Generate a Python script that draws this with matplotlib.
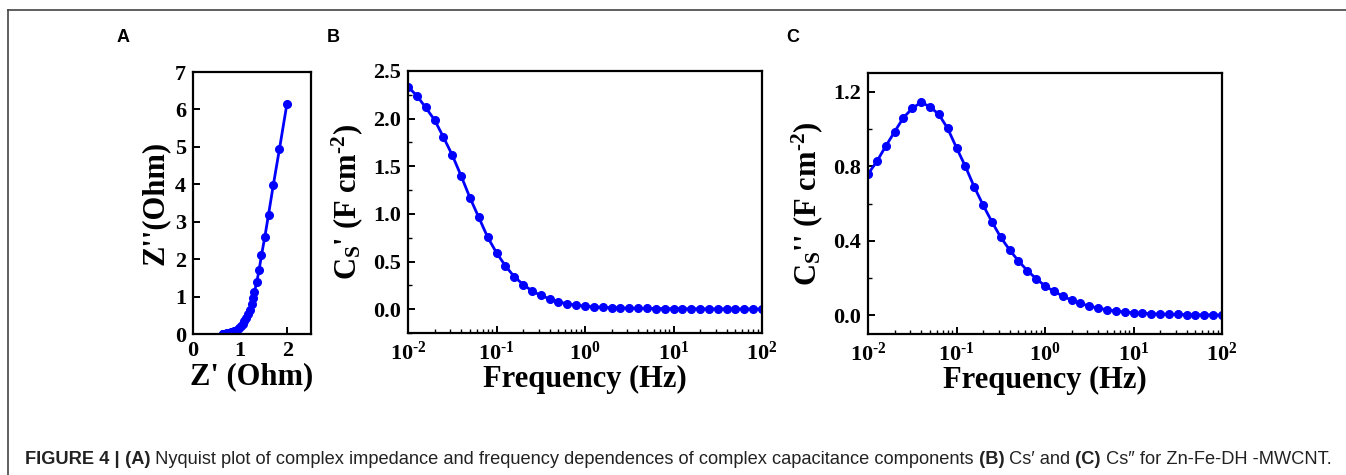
import matplotlib
matplotlib.use("Agg")
import matplotlib.pyplot as plt
from matplotlib import font_manager
from matplotlib.text import Annotation
from matplotlib.ticker import MultipleLocator, LogLocator, NullFormatter, FixedLocator

W, H = 1346, 475

plt.rcParams["font.family"] = "Liberation Serif"
plt.rcParams["font.weight"] = "bold"
plt.rcParams["mathtext.fontset"] = "custom"
plt.rcParams["mathtext.rm"] = "Liberation Serif:bold"
plt.rcParams["mathtext.bf"] = "Liberation Serif:bold"
plt.rcParams["mathtext.it"] = "Liberation Serif:bold"

# --- data ---
FREQ = [0.01, 0.0126, 0.0158, 0.02, 0.0251, 0.0316, 0.0398, 0.0501, 0.0631, 0.0794,
        0.1, 0.126, 0.158, 0.2, 0.251, 0.316, 0.398, 0.501, 0.631, 0.794,
        1.0, 1.26, 1.58, 2.0, 2.51, 3.16, 3.98, 5.01, 6.31, 7.94,
        10.0, 12.6, 15.8, 20.0, 25.1, 31.6, 39.8, 50.1, 63.1, 79.4, 100.0]

CS_REAL = [2.335, 2.24, 2.118, 1.985, 1.807, 1.618, 1.40, 1.17, 0.963, 0.756,
           0.592, 0.455, 0.343, 0.259, 0.193, 0.144, 0.109, 0.077, 0.056, 0.042,
           0.032, 0.025, 0.020, 0.016, 0.013, 0.011, 0.009, 0.008, 0.007, 0.006,
           0.005, 0.005, 0.004, 0.004, 0.003, 0.003, 0.003, 0.002, 0.002, 0.002, 0.002]

CS_IMAG = [0.758, 0.826, 0.906, 0.985, 1.060, 1.110, 1.143, 1.119, 1.078, 1.003,
           0.899, 0.799, 0.691, 0.591, 0.502, 0.419, 0.351, 0.292, 0.240, 0.197,
           0.158, 0.129, 0.104, 0.081, 0.064, 0.050, 0.039, 0.030, 0.023, 0.018,
           0.014, 0.011, 0.009, 0.007, 0.006, 0.005, 0.004, 0.003, 0.003, 0.002, 0.002]

Z_REAL = [1.99, 1.83, 1.70, 1.60, 1.52, 1.45, 1.40, 1.35, 1.30, 1.27,
          1.24, 1.20, 1.17, 1.13, 1.09, 1.05, 1.01, 0.97, 0.93, 0.89,
          0.86, 0.83, 0.80, 0.78, 0.76, 0.74, 0.72, 0.71, 0.70, 0.69,
          0.68, 0.675, 0.67, 0.665, 0.66, 0.655, 0.65, 0.648, 0.645, 0.643, 0.64]

Z_IMAG = [6.15, 4.93, 3.97, 3.19, 2.58, 2.10, 1.71, 1.38, 1.12, 0.95,
          0.80, 0.65, 0.53, 0.43, 0.34, 0.27, 0.21, 0.16, 0.12, 0.09,
          0.07, 0.055, 0.043, 0.034, 0.027, 0.022, 0.018, 0.015, 0.012, 0.010,
          0.008, 0.007, 0.006, 0.005, 0.004, 0.004, 0.003, 0.003, 0.002, 0.002, 0.002]

LOG_TICKS = [1e-2, 1e-1, 1e0, 1e1, 1e2]
LOG_LABELS = [r"10$^{\text{-2}}$", r"10$^{\text{-1}}$", r"10$^{\text{0}}$",
              r"10$^{\text{1}}$", r"10$^{\text{2}}$"]

CAPTION = [
    ("FIGURE 4 |", "bold"),
    (" (A)", "bold"),
    (" Nyquist plot of complex impedance and frequency dependences of complex capacitance components", "normal"),
    (" (B)", "bold"),
    (" Cs\u2032 and", "normal"),
    (" (C)", "bold"),
    (" Cs\u2033 for Zn-Fe-DH -MWCNT.", "normal"),
]

BLUE = "#0000ff"
LABEL_SIZE = 22
TICK_SIZE = 16

names = {f.name for f in font_manager.fontManager.ttflist}
CAPTION_FONT = "Liberation Sans Narrow" if "Liberation Sans Narrow" in names else "Liberation Sans"


def px_axes(fig, left, top, right, bottom):
    return fig.add_axes([left / W, 1 - bottom / H, (right - left) / W, (bottom - top) / H])


def style_axes(ax):
    for spine in ax.spines.values():
        spine.set_linewidth(1.6)
    ax.tick_params(which="major", direction="in", length=5, width=1.4,
                   labelsize=TICK_SIZE, pad=5)
    ax.tick_params(which="minor", direction="in", length=3, width=1.0)
    for label in ax.get_xticklabels() + ax.get_yticklabels():
        label.set_fontweight("bold")


fig = plt.figure(figsize=(W / 100, H / 100), dpi=100)

# panel A - Nyquist
axA = px_axes(fig, 193, 72, 311, 334)
axA.plot(Z_REAL, Z_IMAG, color=BLUE, lw=2, marker="o", ms=5.5)
axA.set_xlim(0, 2.5)
axA.set_ylim(0, 7)
axA.xaxis.set_major_locator(MultipleLocator(1))
axA.yaxis.set_major_locator(MultipleLocator(1))
axA.set_xlabel("Z' (Ohm)", fontsize=LABEL_SIZE, fontweight="bold", labelpad=1)
axA.set_ylabel("Z''(Ohm)", fontsize=LABEL_SIZE, fontweight="bold", labelpad=4)
style_axes(axA)

# panel B - C_S'
axB = px_axes(fig, 408, 71, 762, 333)
axB.plot(FREQ, CS_REAL, color=BLUE, lw=2, marker="o", ms=5.5)
axB.set_ylim(-0.25, 2.5)
axB.yaxis.set_major_locator(MultipleLocator(0.5))
axB.yaxis.set_minor_locator(MultipleLocator(0.25))
axB.set_ylabel(r"C$_\mathregular{S}$' (F cm$^{\text{-2}}$)",
               fontsize=LABEL_SIZE, fontweight="bold", labelpad=6)

# panel C - C_S''
axC = px_axes(fig, 868, 73, 1222, 334)
axC.plot(FREQ, CS_IMAG, color=BLUE, lw=2, marker="o", ms=5.5)
axC.set_ylim(-0.1, 1.3)
axC.yaxis.set_major_locator(MultipleLocator(0.4))
axC.yaxis.set_minor_locator(MultipleLocator(0.2))
axC.set_ylabel(r"C$_\mathregular{S}$'' (F cm$^{\text{-2}}$)",
               fontsize=LABEL_SIZE, fontweight="bold", labelpad=6)

for ax in (axB, axC):
    ax.set_xscale("log")
    ax.set_xlim(1e-2, 1e2)
    ax.xaxis.set_major_locator(FixedLocator(LOG_TICKS))
    ax.set_xticklabels(LOG_LABELS)
    ax.xaxis.set_minor_locator(LogLocator(base=10, subs=range(2, 10), numticks=20))
    ax.xaxis.set_minor_formatter(NullFormatter())
    ax.yaxis.set_major_formatter(matplotlib.ticker.FormatStrFormatter("%.1f"))
    ax.set_xlabel("Frequency (Hz)", fontsize=LABEL_SIZE, fontweight="bold", labelpad=0)
    style_axes(ax)
    ax.tick_params(axis="x", pad=6)

# panel letters
for letter, x in (("A", 123), ("B", 333), ("C", 793)):
    fig.text(x / W, 1 - 37 / H, letter, family="Liberation Sans", weight="bold",
             fontsize=13, ha="center", va="center")

# frame lines
fig.add_artist(plt.Line2D([8 / W, 1], [1 - 10 / H, 1 - 10 / H], color="#444444", lw=1.2))
fig.add_artist(plt.Line2D([8 / W, 8 / W], [0, 1 - 10 / H], color="#444444", lw=1.2))

# caption, pieces chained left to right
cap_size = 11.5
pieces = []
prev = fig.text(25 / W, 1 - 468 / H, CAPTION[0][0], family=CAPTION_FONT,
                weight=CAPTION[0][1], fontsize=cap_size, color="#222222",
                ha="left", va="bottom")
pieces.append(prev)
for text, weight in CAPTION[1:]:
    ann = Annotation(text, xy=(1, 0), xycoords=prev, ha="left", va="bottom",
                     family=CAPTION_FONT, weight=weight, fontsize=cap_size,
                     color="#222222")
    fig.add_artist(ann)
    pieces.append(ann)
    prev = ann

# fit caption width to the reference span (25 px to 1333 px)
renderer = fig.canvas.get_renderer()
right = pieces[-1].get_window_extent(renderer).x1
scale = (1333 - 25) / (right - 25)
for p in pieces:
    p.set_fontsize(cap_size * scale)

fig.savefig("out.png", dpi=100)
